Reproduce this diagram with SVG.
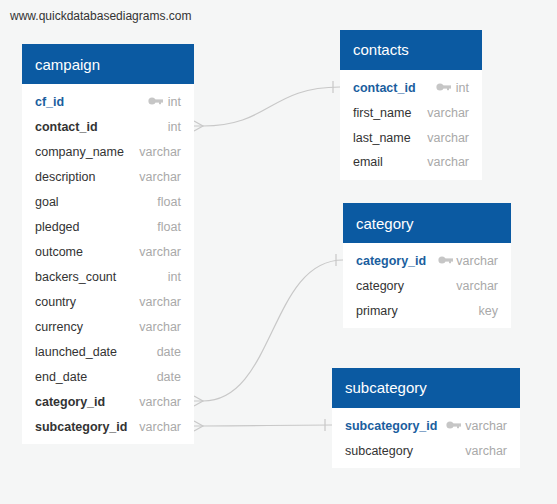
<svg xmlns="http://www.w3.org/2000/svg" width="557" height="504" viewBox="0 0 557 504">
<style>
text{font-family:"Liberation Sans",Arial,sans-serif}
.hd{fill:#0b5aa2}
.bd{fill:#ffffff}
.ht{fill:#ffffff;font-size:15px}
.f{fill:#333333;font-size:12.5px}
.fk{fill:#333333;font-size:12.5px;font-weight:bold}
.pk{fill:#1a5e9e;font-size:12.5px;font-weight:bold}
.t{fill:#a9a9a9;font-size:12.5px;text-anchor:end}
.c{fill:none;stroke:#c8c8c8;stroke-width:1.2}
.key{fill:#c6c6c6}
</style>
<defs>
<g id="key"><circle cx="4" cy="0" r="3.6"/><rect x="6" y="-1.6" width="9" height="3.2"/><rect x="11" y="0" width="2" height="3.2"/></g>
</defs>
<rect width="557" height="504" fill="#f5f6f6"/>
<text x="10" y="20" style="font-size:12px;fill:#333">www.quickdatabasediagrams.com</text>
<g id="connectors">
<path class="c" d="M194,126 L203,126 C270,126 270,87 340,87"/>
<path class="c" d="M194,121 L203,126 L194,131"/><path class="c" d="M333,81 L333,93"/>
<path class="c" d="M194,401 L203,401 C275,401 270,260 343,260"/>
<path class="c" d="M194,396 L203,401 L194,406"/><path class="c" d="M336,254 L336,266"/>
<path class="c" d="M194,426 L203,426 C265,426 270,425 332,425"/>
<path class="c" d="M194,421 L203,426 L194,431"/><path class="c" d="M325,419 L325,431"/>
</g>
<g id="campaign">
<rect class="bd" x="22" y="44" width="172" height="400"/>
<rect class="hd" x="22" y="44" width="172" height="40"/>
<text class="ht" x="35" y="70">campaign</text>
<text class="pk" x="35" y="106">cf_id</text><use href="#key" class="key" x="148" y="101"/><text class="t" x="181" y="106">int</text>
<text class="fk" x="35" y="131">contact_id</text><text class="t" x="181" y="131">int</text>
<text class="f" x="35" y="156">company_name</text><text class="t" x="181" y="156">varchar</text>
<text class="f" x="35" y="181">description</text><text class="t" x="181" y="181">varchar</text>
<text class="f" x="35" y="206">goal</text><text class="t" x="181" y="206">float</text>
<text class="f" x="35" y="231">pledged</text><text class="t" x="181" y="231">float</text>
<text class="f" x="35" y="256">outcome</text><text class="t" x="181" y="256">varchar</text>
<text class="f" x="35" y="281">backers_count</text><text class="t" x="181" y="281">int</text>
<text class="f" x="35" y="306">country</text><text class="t" x="181" y="306">varchar</text>
<text class="f" x="35" y="331">currency</text><text class="t" x="181" y="331">varchar</text>
<text class="f" x="35" y="356">launched_date</text><text class="t" x="181" y="356">date</text>
<text class="f" x="35" y="381">end_date</text><text class="t" x="181" y="381">date</text>
<text class="fk" x="35" y="406">category_id</text><text class="t" x="181" y="406">varchar</text>
<text class="fk" x="35" y="431">subcategory_id</text><text class="t" x="181" y="431">varchar</text>
</g>
<g id="contacts">
<rect class="bd" x="340" y="30" width="142" height="150"/>
<rect class="hd" x="340" y="30" width="142" height="40"/>
<text class="ht" x="353" y="55">contacts</text>
<text class="pk" x="353" y="92">contact_id</text><use href="#key" class="key" x="436" y="87"/><text class="t" x="469" y="92">int</text>
<text class="f" x="353" y="117">first_name</text><text class="t" x="469" y="117">varchar</text>
<text class="f" x="353" y="142">last_name</text><text class="t" x="469" y="142">varchar</text>
<text class="f" x="353" y="166">email</text><text class="t" x="469" y="166">varchar</text>
</g>
<g id="category">
<rect class="bd" x="343" y="203" width="168" height="125"/>
<rect class="hd" x="343" y="203" width="168" height="40"/>
<text class="ht" x="356" y="229">category</text>
<text class="pk" x="356" y="265">category_id</text><use href="#key" class="key" x="438" y="260"/><text class="t" x="498" y="265">varchar</text>
<text class="f" x="356" y="290">category</text><text class="t" x="498" y="290">varchar</text>
<text class="f" x="356" y="315">primary</text><text class="t" x="498" y="315">key</text>
</g>
<g id="subcategory">
<rect class="bd" x="332" y="368" width="188" height="100"/>
<rect class="hd" x="332" y="368" width="188" height="40"/>
<text class="ht" x="345" y="393">subcategory</text>
<text class="pk" x="345" y="430">subcategory_id</text><use href="#key" class="key" x="446" y="425"/><text class="t" x="507" y="430">varchar</text>
<text class="f" x="345" y="455">subcategory</text><text class="t" x="507" y="455">varchar</text>
</g>
</svg>
